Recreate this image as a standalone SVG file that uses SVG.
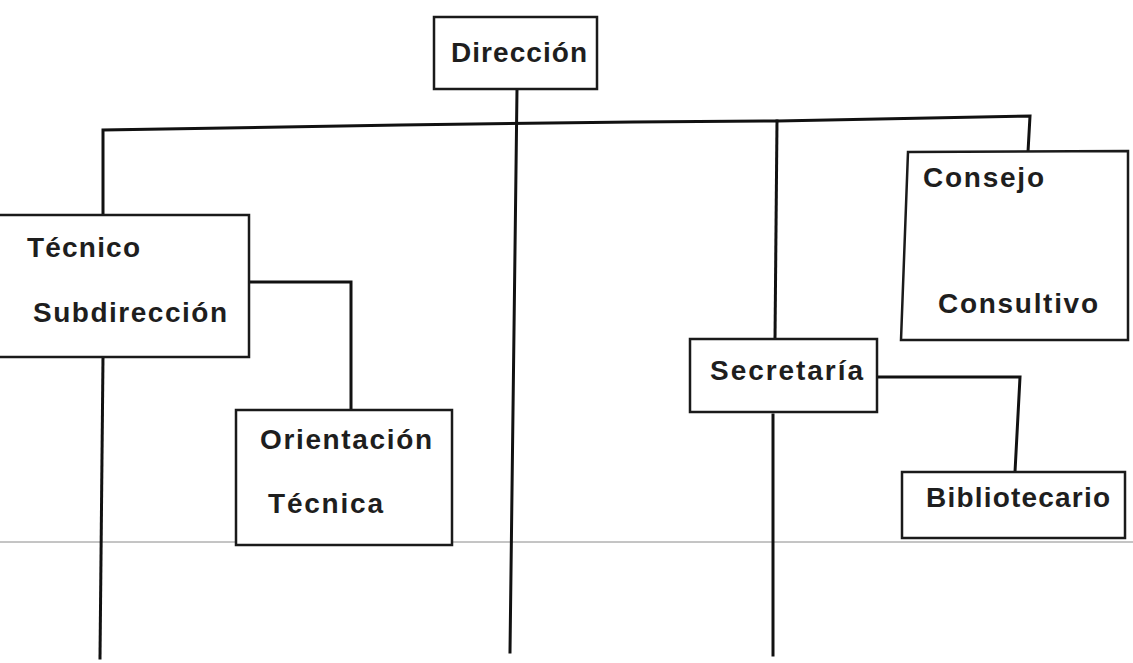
<svg xmlns="http://www.w3.org/2000/svg" width="1133" height="663" viewBox="0 0 1133 663">
<style>
.box{fill:#fff;stroke:#1a1a1a;stroke-width:2.5;stroke-linejoin:miter}
.ln{fill:none;stroke:#111;stroke-width:3;stroke-linecap:square;stroke-linejoin:miter}
.t{font-family:"Liberation Sans",Arial,sans-serif;font-weight:bold;font-size:28px;fill:#1e1e1e}
</style>
<rect width="1133" height="663" fill="#fff"/>
<line x1="0" y1="542" x2="1133" y2="542" stroke="#8a8a8a" stroke-width="1"/>
<g id="connectors">
<polyline class="ln" points="103,215 103,130 400,125 633,122 777,121 1030,116 1028,152"/>
<polyline class="ln" points="777,121 775,339"/>
<polyline class="ln" points="517,89 510,652"/>
<polyline class="ln" points="103,357 100,658"/>
<polyline class="ln" points="249,282 351,282 351,410"/>
<polyline class="ln" points="877,377 1020,377 1015,472"/>
<polyline class="ln" points="773,415 773,655"/>
</g>
<g id="direccion">
<rect class="box" x="434" y="17" width="163" height="72"/>
<text class="t" x="451" y="62" textLength="136" lengthAdjust="spacing">Dirección</text>
</g>
<g id="subdireccion">
<rect class="box" x="-3" y="215" width="252" height="142"/>
<text class="t" x="27" y="257" textLength="113" lengthAdjust="spacing">Técnico</text>
<text class="t" x="33" y="322" textLength="194" lengthAdjust="spacing">Subdirección</text>
</g>
<g id="orientacion">
<rect class="box" x="236" y="410" width="216" height="135"/>
<text class="t" x="260" y="449" textLength="172" lengthAdjust="spacing">Orientación</text>
<text class="t" x="268" y="513" textLength="115" lengthAdjust="spacing">Técnica</text>
</g>
<g id="consejo">
<polygon class="box" points="908,152 1128,151 1128,340 901,340"/>
<text class="t" x="923" y="187" textLength="121" lengthAdjust="spacing">Consejo</text>
<text class="t" x="938" y="313" textLength="160" lengthAdjust="spacing">Consultivo</text>
</g>
<g id="secretaria">
<rect class="box" x="690" y="339" width="187" height="73"/>
<text class="t" x="710" y="380" textLength="153" lengthAdjust="spacing">Secretaría</text>
</g>
<g id="bibliotecario">
<rect class="box" x="902" y="472" width="223" height="66"/>
<text class="t" x="926" y="507" textLength="184" lengthAdjust="spacing">Bibliotecario</text>
</g>
</svg>
